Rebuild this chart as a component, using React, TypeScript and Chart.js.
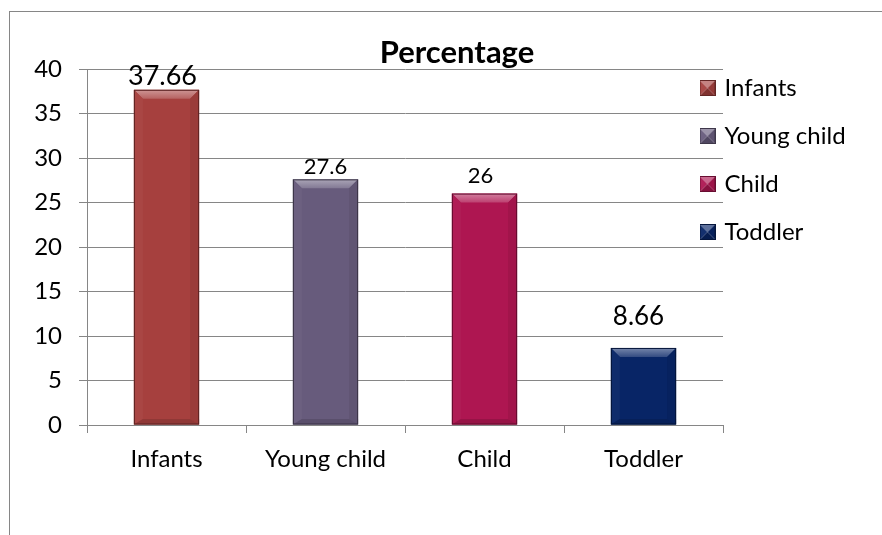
import { useEffect, useRef } from 'react';
import { Chart, registerables } from 'chart.js';

Chart.register(...registerables);

// ---- data ----
const CATEGORIES = ['Infants', 'Young child', 'Child', 'Toddler'];
const PERCENTAGES = [37.66, 27.6, 26, 8.66];
const Y_TICKS = [0, 5, 10, 15, 20, 25, 30, 35, 40];

// ---- styling ----
const BAR_COLORS = ['#A6403E', '#675B7C', '#AE1651', '#082566'];
const LABEL_FONT_SIZES = [27, 22, 22, 26];
const LABEL_LIFT = [14, 12, 18, 31];
const LABEL_SHIFT_X = [-4, 0, -4, -5];

const W = 894;
const H = 540;
const FONT = 'Lato';
const GRID = '#868686';
const BEVEL = 9;
const AXIS_FONT = 24;
const LEGEND_W = 181;
const LEGEND_LEFT = 668.5;
const LEGEND_TOP = 40;

function shade(hex: string, amt: number): string {
  const n = parseInt(hex.slice(1), 16);
  const ch = [(n >> 16) & 255, (n >> 8) & 255, n & 255];
  const target = amt < 0 ? 0 : 255;
  const p = Math.abs(amt);
  const [r, g, b] = ch.map((v) => Math.round(v + (target - v) * p));
  return `rgb(${r},${g},${b})`;
}

function poly(ctx: CanvasRenderingContext2D, pts: number[][], fill: string | CanvasGradient) {
  ctx.beginPath();
  ctx.moveTo(pts[0][0], pts[0][1]);
  for (let i = 1; i < pts.length; i++) ctx.lineTo(pts[i][0], pts[i][1]);
  ctx.closePath();
  ctx.fillStyle = fill;
  ctx.fill();
}

// small bevelled square used as legend marker
function makeLegendIcon(color: string): HTMLCanvasElement {
  const s = 16;
  const cv = document.createElement('canvas');
  cv.width = s;
  cv.height = s;
  const ctx = cv.getContext('2d')!;
  const m = s / 2;
  poly(ctx, [[0, 0], [s, 0], [m, m]], shade(color, 0.35));
  poly(ctx, [[0, 0], [m, m], [0, s]], shade(color, 0.05));
  poly(ctx, [[s, 0], [m, m], [s, s]], shade(color, -0.1));
  poly(ctx, [[0, s], [m, m], [s, s]], shade(color, -0.22));
  ctx.strokeStyle = shade(color, -0.4);
  ctx.lineWidth = 1;
  ctx.strokeRect(0.5, 0.5, s - 1, s - 1);
  return cv;
}

// bevelled faces on each bar plus the value labels above them
const barDecor = {
  id: 'barDecor',
  afterDatasetsDraw(chart: any) {
    const ctx: CanvasRenderingContext2D = chart.ctx;
    const meta = chart.getDatasetMeta(0);
    meta.data.forEach((el: any, i: number) => {
      const { x, y, base, width } = el.getProps(['x', 'y', 'base', 'width'], true);
      const c = BAR_COLORS[i];
      const l = x - width / 2;
      const r = x + width / 2;
      const t = Math.min(y, base);
      const btm = Math.max(y, base);
      const h = btm - t;
      const b = Math.min(BEVEL, h / 2);
      const bb = Math.min(BEVEL * 0.6, h / 2);
      ctx.save();
      const g = ctx.createLinearGradient(0, t, 0, t + b);
      g.addColorStop(0, shade(c, 0.45));
      g.addColorStop(1, shade(c, 0.18));
      poly(ctx, [[l, t], [r, t], [r - b, t + b], [l + b, t + b]], g);
      poly(ctx, [[l, t], [l + b, t + b], [l + b, btm - bb], [l, btm]], shade(c, 0.03));
      poly(ctx, [[r, t], [r - b, t + b], [r - b, btm - bb], [r, btm]], shade(c, -0.07));
      poly(ctx, [[l, btm], [l + b, btm - bb], [r - b, btm - bb], [r, btm]], shade(c, -0.13));
      ctx.strokeStyle = shade(c, -0.45);
      ctx.lineWidth = 1;
      ctx.strokeRect(l + 0.5, t + 0.5, width - 1, h - 1);

      ctx.fillStyle = '#000';
      ctx.font = `${LABEL_FONT_SIZES[i]}px ${FONT}`;
      ctx.textAlign = 'center';
      ctx.textBaseline = 'middle';
      ctx.fillText(String(PERCENTAGES[i]), x + LABEL_SHIFT_X[i], t - LABEL_LIFT[i]);
      ctx.restore();
    });
  },
};

// legend sits partly over the right end of the plot, like an overlay legend
const legendPlacement = {
  id: 'legendPlacement',
  beforeLayout(chart: any) {
    const lg = chart.legend;
    if (lg && !lg.__fixedWidth) {
      const fit = lg.fit.bind(lg);
      lg.fit = function () {
        fit();
        this.width = LEGEND_W;
      };
      lg.__fixedWidth = true;
    }
  },
  afterLayout(chart: any) {
    const lg = chart.legend;
    if (!lg) return;
    lg.left = LEGEND_LEFT;
    lg.right = LEGEND_LEFT + lg.width;
    lg.top = LEGEND_TOP;
    lg.bottom = LEGEND_TOP + lg.height;
  },
};

export default function App() {
  const ref = useRef<HTMLCanvasElement | null>(null);

  useEffect(() => {
    if (!ref.current) return;
    Chart.defaults.font.family = FONT;
    const icons = BAR_COLORS.map(makeLegendIcon);
    const chart = new Chart(ref.current, {
      type: 'bar',
      data: {
        labels: CATEGORIES,
        datasets: [
          {
            label: 'Percentage',
            data: PERCENTAGES,
            backgroundColor: BAR_COLORS,
            borderWidth: 0,
            barPercentage: 0.41,
            categoryPercentage: 1,
          },
        ],
      },
      options: {
        animation: false,
        responsive: false,
        devicePixelRatio: 1,
        layout: { padding: 0 },
        plugins: {
          title: {
            display: true,
            text: 'Percentage',
            color: '#000',
            font: { family: FONT, size: 31, weight: 'bold', lineHeight: 1 },
            padding: { top: 25.5, bottom: 0.5 },
          },
          legend: {
            position: 'right',
            align: 'start',
            labels: {
              usePointStyle: true,
              pointStyleWidth: 10,
              padding: 24,
              color: '#000',
              font: { family: FONT, size: AXIS_FONT },
              generateLabels: () =>
                CATEGORIES.map((text, i) => ({
                  text,
                  fillStyle: BAR_COLORS[i],
                  strokeStyle: BAR_COLORS[i],
                  lineWidth: 0,
                  hidden: false,
                  index: i,
                  datasetIndex: 0,
                  pointStyle: icons[i],
                  fontColor: '#000',
                })),
            },
          },
          tooltip: { enabled: false },
        },
        scales: {
          y: {
            min: Y_TICKS[0],
            max: Y_TICKS[Y_TICKS.length - 1],
            ticks: {
              stepSize: Y_TICKS[1] - Y_TICKS[0],
              color: '#000',
              padding: 17,
              font: { family: FONT, size: AXIS_FONT },
            },
            grid: { color: GRID, lineWidth: 1, drawTicks: true, tickLength: 8 },
            border: { color: GRID, width: 1 },
            afterFit: (s: any) => {
              s.width = 77;
            },
          },
          x: {
            offset: true,
            ticks: {
              color: '#000',
              padding: 12,
              maxRotation: 0,
              autoSkip: false,
              font: { family: FONT, size: AXIS_FONT },
            },
            grid: {
              offset: true,
              drawOnChartArea: false,
              drawTicks: true,
              tickLength: 8,
              color: GRID,
              lineWidth: 1,
            },
            border: { color: GRID, width: 1 },
            afterFit: (s: any) => {
              s.height = H - 413;
            },
          },
        },
      },
      plugins: [barDecor, legendPlacement],
    });
    return () => chart.destroy();
  }, []);

  return (
    <div style={{ position: 'fixed', inset: 0, overflow: 'hidden', background: '#fff' }}>
      <div
        style={{
          position: 'absolute',
          left: 9,
          top: 11,
          width: W,
          height: H,
          border: `1px solid ${GRID}`,
        }}
      >
        <canvas ref={ref} width={W} height={H} style={{ display: 'block', width: W, height: H }} />
      </div>
    </div>
  );
}
